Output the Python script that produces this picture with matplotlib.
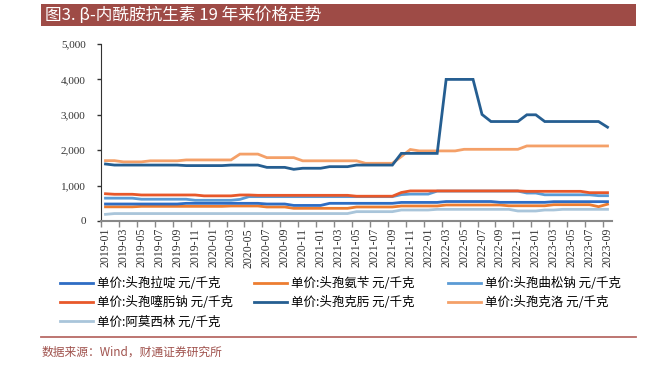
import numpy as np
import matplotlib
matplotlib.use("Agg")
import matplotlib.pyplot as plt
from matplotlib.patches import Rectangle
from matplotlib.lines import Line2D
from matplotlib.ticker import FuncFormatter

# monthly price data, 2019-01 .. 2023-09, yuan/kg
months = ["%d-%02d" % (y, m) for y in range(2019, 2024) for m in range(1, 13)][:57]

cefradine = [480, 480, 480, 480, 480, 480, 480, 480, 480, 499, 499, 499, 499, 499, 499, 499, 499, 499,
             480, 480, 480, 440, 440, 440, 440, 499, 499, 499, 499, 499, 499, 499, 499,
             525, 525, 525, 525, 525, 550, 550, 550, 550, 550, 550, 527, 527, 527, 527, 527, 527,
             546, 546, 546, 546, 546, 546, 546]
cefalexin = [400, 400, 400, 400, 414, 414, 414, 414, 414, 414, 414, 414, 414, 414, 424, 424, 424, 424,
             396, 396, 396, 358, 358, 358, 358, 358, 358, 358, 396, 396, 396, 396, 396,
             424, 424, 424, 424, 424, 452, 452, 452, 452, 452, 452, 452, 430, 430, 430, 430, 430,
             460, 460, 460, 460, 460, 405, 475]
ceftriaxone = [645, 645, 645, 645, 615, 615, 615, 615, 615, 615, 585, 585, 585, 585, 585, 610,
               688, 688, 688, 688, 688, 688, 688, 688, 688, 688, 688, 688, 688, 688, 688, 688, 688,
               745, 760, 760, 760, 845, 845, 845, 845, 845, 845, 845, 845, 845, 845,
               790, 790, 740, 740, 740, 740, 740, 740, 715, 715]
cefotaxime = [770, 755, 755, 755, 735, 735, 735, 735, 735, 735, 735, 710, 710, 710, 710, 735, 735,
              725, 725, 725, 725, 725, 725, 725, 725, 725, 725, 725, 700, 700, 700, 700, 700,
              805, 850, 850, 850, 850, 850, 850, 850, 850, 850, 850, 850, 850, 850,
              838, 838, 838, 838, 838, 838, 838, 800, 800, 800]
cefixime = [1610, 1580, 1580, 1580, 1580, 1580, 1580, 1580, 1580, 1565, 1565, 1565, 1565, 1565,
            1580, 1580, 1580, 1580, 1515, 1515, 1515, 1460, 1490, 1490, 1490, 1535, 1535, 1535,
            1580, 1580, 1580, 1580, 1580, 1910, 1910, 1910, 1910, 1910, 4000, 4000, 4000, 4000,
            3010, 2810, 2810, 2810, 2810, 3000, 3000, 2810, 2810, 2810, 2810, 2810, 2810, 2810, 2650]
cefaclor = [1705, 1705, 1670, 1670, 1670, 1700, 1700, 1700, 1700, 1725, 1725, 1725, 1725, 1725, 1725,
            1890, 1890, 1890, 1790, 1790, 1790, 1790, 1700, 1700, 1700, 1700, 1700, 1700, 1700,
            1630, 1630, 1630, 1630, 1820, 2020, 1980, 1980, 1980, 1980, 1980,
            2025, 2025, 2025, 2025, 2025, 2025, 2025,
            2120, 2120, 2120, 2120, 2120, 2120, 2120, 2120, 2120, 2120]
amoxicillin = [188, 210, 210, 210, 210, 210, 210, 210, 210, 210, 210, 210, 210, 210, 210, 210, 210, 210,
               210, 210, 210, 210, 210, 210, 210, 210, 210, 210, 264, 264, 264, 264, 264,
               311, 311, 311, 311, 330, 330, 330, 330, 330, 330, 330, 330, 330,
               283, 283, 283, 311, 311, 330, 330, 330, 330, 330, 330]

names = ["单价:头孢拉啶 元/千克", "单价:头孢氨苄 元/千克", "单价:头孢曲松钠 元/千克",
         "单价:头孢噻肟钠 元/千克", "单价:头孢克肟 元/千克", "单价:头孢克洛 元/千克",
         "单价:阿莫西林 元/千克"]
colors = ["#2E6DC4", "#ED7D31", "#5B9BD5", "#E8582A", "#255E91", "#F4A068", "#A9C5DA"]

cjk = ["Noto Sans CJK SC", "DejaVu Sans"]

fig = plt.figure(figsize=(6.5, 3.68), dpi=100)
ax = fig.add_axes([101 / 650, 1 - 221 / 368, (612 - 101) / 650, (221 - 44) / 368])

x = np.arange(len(months))
series = [cefradine, cefalexin, ceftriaxone, cefotaxime, cefixime, cefaclor, amoxicillin]
# draw so the red/blue lines sit on top like the original
order = [6, 1, 0, 2, 3, 5, 4]
lines = [None] * 7
for k in order:
    lines[k], = ax.plot(x, series[k], color=colors[k], lw=2.0, solid_joinstyle="miter")

ax.set_xlim(-0.5, len(months) - 0.5)
ax.set_ylim(0, 5000)
ax.set_yticks([0, 1000, 2000, 3000, 4000, 5000])
ax.yaxis.set_major_formatter(FuncFormatter(lambda v, p: "{:,.0f}".format(v)))
ax.set_xticks(np.arange(-0.5, len(months) - 1, 2))
ax.set_xticklabels([])
ax.set_xticks(x[::2], minor=True)
ax.set_xticklabels(months[::2], minor=True, rotation=90, fontsize=8.5,
                   family="Liberation Serif", color="#333333")
ax.tick_params(axis="x", which="minor", length=0, pad=5)
ax.tick_params(axis="x", which="major", length=4, width=1, color="#888888")
ax.tick_params(axis="y", length=3, width=1, pad=8, color="#333333", labelcolor="#333333")
for lab in ax.get_yticklabels():
    lab.set_family("Liberation Serif")
    lab.set_fontsize(8)
for s in ["top", "right"]:
    ax.spines[s].set_visible(False)
ax.spines["left"].set_color("#333333")
ax.spines["bottom"].set_color("#888888")
ax.spines["bottom"].set_linewidth(1.5)

# legend: three columns, row-major like the original
cols = [[0, 3, 6], [1, 4], [2, 5]]
col_x = [60 / 650, 254 / 650, 448 / 650]
for cx, idx in zip(col_x, cols):
    fig.legend([lines[k] for k in idx], [names[k] for k in idx],
               loc="upper left", bbox_to_anchor=(cx, 1 - 277 / 368),
               frameon=False, prop={"family": cjk, "size": 9},
               handlelength=2.6, handletextpad=0.35, labelspacing=0.5,
               borderaxespad=0, borderpad=0)

# title bar
fig.add_artist(Rectangle((41 / 650, 1 - 26 / 368), (636 - 41) / 650, 22 / 368,
                         transform=fig.transFigure, facecolor="#9E4B46", edgecolor="none"))
fig.text(45 / 650, 1 - 15 / 368, "图3. β-内酰胺抗生素 19 年来价格走势", color="white",
         family=cjk, fontsize=12, va="center", ha="left")

# bottom rule and source
fig.add_artist(Line2D([41 / 650, 636 / 650], [1 - 337 / 368] * 2, transform=fig.transFigure,
                      color="#B86A66", lw=1.3))
fig.text(42 / 650, 1 - 352 / 368, "数据来源：Wind，财通证券研究所", color="#A0524D",
         family=cjk, fontsize=8.5, va="center", ha="left")

fig.savefig("out.png", dpi=100)
